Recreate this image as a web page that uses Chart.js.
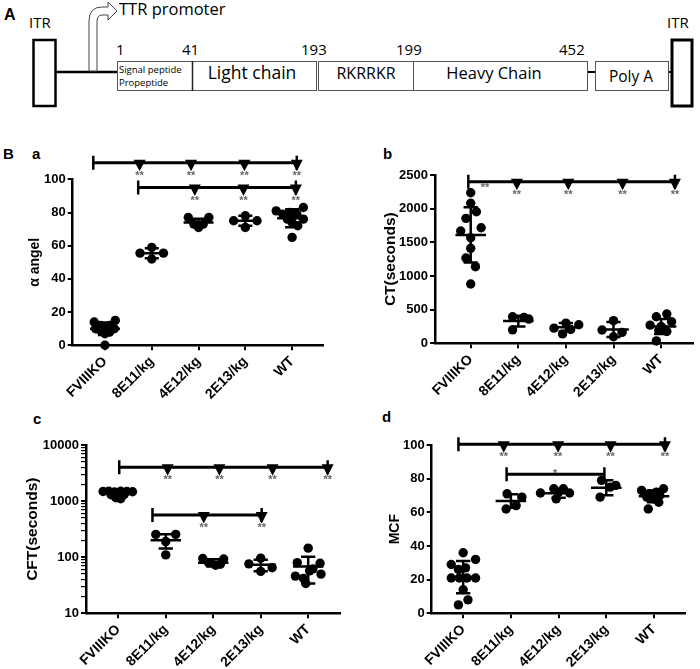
<!DOCTYPE html>
<html><head><meta charset="utf-8">
<script src="https://cdn.jsdelivr.net/npm/chart.js@4.4.1/dist/chart.umd.min.js"></script>
<style>
body{margin:0;background:#fff;}
#wrap{position:relative;width:700px;height:669px;overflow:hidden;background:#fff;}
canvas{position:absolute;}
.lbl{position:absolute;font:bold 15px "Liberation Sans",Arial,sans-serif;color:#000;line-height:1;}
</style></head><body>
<div id="wrap">
<svg width="700" height="135" style="position:absolute;left:0;top:0" xmlns="http://www.w3.org/2000/svg">
  <g font-family="'Open Sans', 'Liberation Sans', sans-serif" fill="#000">
    <text x="4" y="20" font-family="'Liberation Sans', Arial, sans-serif" font-weight="bold" font-size="16">A</text>
    <text x="29" y="28" font-size="15">ITR</text>
    <text x="667" y="28" font-size="15">ITR</text>
    <text x="119" y="15" font-size="16.5">TTR promoter</text>
    <text x="116" y="55" font-size="15">1</text>
    <text x="182" y="55" font-size="15">41</text>
    <text x="301" y="55" font-size="15">193</text>
    <text x="396" y="55" font-size="15">199</text>
    <text x="559" y="55" font-size="15">452</text>
  </g>
  <rect x="33.5" y="40" width="22" height="66" fill="#fff" stroke="#000" stroke-width="2.5"/>
  <rect x="672" y="40" width="20" height="66" fill="#fff" stroke="#000" stroke-width="3"/>
  <line x1="56" y1="72" x2="117" y2="72" stroke="#000" stroke-width="2.5"/>
  <line x1="587" y1="72" x2="595" y2="72" stroke="#000" stroke-width="2"/>
  <line x1="668" y1="72" x2="672" y2="72" stroke="#000" stroke-width="2"/>
  <path d="M89 71 L89 21 Q89 7 102 7 L108 7 L108 2 L117 11 L108 20 L108 15 L102 15 Q97 15 97 22 L97 71 Z" fill="#fff" stroke="#444" stroke-width="1"/>
  <g fill="#fff" stroke="#555" stroke-width="1">
    <rect x="117.5" y="61.5" width="75" height="29"/>
    <rect x="192.5" y="61.5" width="124" height="29"/>
    <rect x="318.5" y="61.5" width="95" height="29"/>
    <rect x="413.5" y="61.5" width="174" height="29"/>
    <rect x="595.5" y="61.5" width="73" height="29"/>
  </g>
  <line x1="192.5" y1="61" x2="192.5" y2="91" stroke="#222" stroke-width="1.5"/>
  <g font-family="'Open Sans', 'Liberation Sans', sans-serif" fill="#000">
    <text x="119" y="73" font-size="9.5">Signal peptide</text>
    <text x="119" y="86" font-size="9.5">Propeptide</text>
    <text x="252" y="79" font-size="17.5" text-anchor="middle">Light chain</text>
    <text x="366" y="79" font-size="16" text-anchor="middle">RKRRKR</text>
    <text x="494" y="79" font-size="16.5" text-anchor="middle">Heavy Chain</text>
    <text x="631" y="82" font-size="15.5" text-anchor="middle">Poly A</text>
  </g>
</svg>
<div class="lbl" style="left:3px;top:146px">B</div>
<div class="lbl" style="left:32px;top:146px">a</div>
<div class="lbl" style="left:383px;top:146px">b</div>
<div class="lbl" style="left:33px;top:411px">c</div>
<div class="lbl" style="left:382px;top:409px">d</div>
<canvas id="ca" width="350" height="272" style="left:0;top:140px"></canvas>
<canvas id="cb" width="350" height="272" style="left:350px;top:140px"></canvas>
<canvas id="cc" width="350" height="259" style="left:0;top:410px"></canvas>
<canvas id="cd" width="350" height="259" style="left:350px;top:410px"></canvas>
</div>
<script>
// ---------- DATA ----------
const categories = ['FVIIIKO', '8E11/kg', '4E12/kg', '2E13/kg', 'WT'];

// Panel a: alpha angle, points as [jitter, value]
const alphaPoints = [
  [[-0.23,14],[0.22,15],[-0.1,12],[0.1,12],[0,11],[-0.2,10],[0.2,10],[-0.1,9],[0.1,8],[0,7],[0,0]],
  [[0,59],[-0.25,55.5],[0.25,55.5],[0,52]],
  [[-0.22,77],[0.22,77],[-0.1,73],[0,71],[0.1,73]],
  [[0,78],[-0.25,75],[0.25,75],[0,71]],
  [[-0.34,81],[0.24,83],[-0.2,79],[-0.05,80],[0.1,79],[0.24,76],[-0.1,76],[0,74],[0.12,72],[0,65]]
];
const alphaMean = [10, 55.5, 74, 75, 76.5];
const alphaSD = [3.8, 3, 2.3, 3, 5.4];
const alphaTicks = [0, 20, 40, 60, 80, 100];
const alphaBars = [
  {y:110, from:-0.25, marks:[0.74,1.84,2.98,4.1], end:4.1, stars:[0.74,1.84,2.98,4.1], text:'**'},
  {y:95, from:0.71, marks:[1.92,2.96,4.08], end:4.08, stars:[1.92,2.96,4.08], text:'**'}
];

// Panel b: CT (seconds)
const ctPoints = [
  [[0,2236],[0,2080],[0.12,1954],[-0.1,1856],[-0.21,1668],[0.22,1717],[0,1568],[0,1411],[-0.1,1267],[0.1,1138],[0,881]],
  [[-0.12,395],[0.12,385],[0.22,360],[-0.12,200]],
  [[-0.25,225],[0,300],[0.27,275],[-0.07,140],[0.1,205]],
  [[0,336],[-0.24,198],[0.18,163],[0,98]],
  [[-0.1,395],[0.12,435],[0.22,320],[-0.23,270],[0,250],[-0.05,190],[0.12,175],[0.05,215],[-0.1,35]]
];
const ctMean = [1610, 330, 240, 205, 250];
const ctSD = [410, 80, 60, 110, 110];
const ctTicks = [0, 500, 1000, 1500, 2000, 2500];
const ctBars = [
  {y:2400, from:-0.05, marks:[0.97,2.05,3.19,4.29], end:4.29, stars:[0.97,2.05,3.19,4.29], text:'**', extra:[[0.3,'**']]}
];

// Panel c: CFT (seconds), log axis
const cftPoints = [
  [[-0.32,1480],[-0.2,1500],[-0.08,1450],[0.05,1500],[0.18,1480],[0.3,1470],[-0.15,1300],[0,1350],[0.12,1300],[-0.05,1150],[0.05,1100]],
  [[-0.21,255],[0.21,255],[0,190],[0,110]],
  [[-0.22,95],[0.22,93],[-0.1,80],[0.05,72],[0.15,75]],
  [[0,96],[-0.25,76],[0.24,65],[0,56]],
  [[0,145],[-0.23,80],[0.25,78],[0.1,62],[-0.27,46],[0.27,50],[-0.1,42],[-0.05,34],[0.03,57]]
];
const cftMean = [1380, 200, 80, 73, 68];
const cftSD = [120, 57, 12, 17, 34];
const cftTicks = [10, 100, 1000, 10000];
const cftBars = [
  {y:4000, from:0.02, marks:[1.04,2.13,3.25,4.41], end:4.41, stars:[1.04,2.13,3.25,4.41], text:'**'},
  {y:565, from:0.72, marks:[1.8,3.02], end:3.02, stars:[1.8,3.02], text:'**'}
];

// Panel d: MCF
const mcfPoints = [
  [[0,36],[-0.25,29],[0.26,32],[0.05,27],[-0.1,26],[-0.25,21],[-0.08,21],[0.08,21],[0.26,21],[0,14],[0.1,8],[-0.1,5]],
  [[-0.08,71],[0.23,69],[0.11,64],[-0.1,62]],
  [[-0.1,74],[0.1,74],[-0.38,71.5],[0.23,71.5],[-0.05,68],[0,72]],
  [[-0.1,79],[0.2,76],[0.08,75],[-0.13,69]],
  [[-0.26,73],[0.2,74],[-0.1,71],[0.05,72],[0.12,70],[-0.15,69],[0,68],[0.1,66],[-0.12,62]]
];
const mcfMean = [21.5, 66.7, 71.3, 74.6, 69.5];
const mcfSD = [9.6, 4, 2.6, 4.4, 3.5];
const mcfTicks = [0, 20, 40, 60, 80, 100];
const mcfBars = [
  {y:100.4, from:-0.1, marks:[0.85,1.99,3.09,4.23], end:4.23, stars:[0.85,1.99,3.09,4.23], text:'**'},
  {y:82.6, from:0.91, marks:[], end:2.96, stars:[], text:'', above:[[1.93,'*']]}
];

// ---------- RENDERING ----------
const FONT = '"Liberation Sans", Arial, sans-serif';
Chart.defaults.font.family = FONT;
Chart.defaults.color = '#000';

function overlay(p) {
  return {
    id: 'overlay_' + p.id,
    afterDatasetsDraw(chart) {
      const {ctx} = chart;
      const x = chart.scales.x, y = chart.scales.y;
      ctx.save();
      ctx.strokeStyle = '#000'; ctx.fillStyle = '#000'; ctx.lineWidth = 2.5;
      // mean +/- SD
      p.mean.forEach((m, i) => {
        const s = p.sd[i];
        const px = x.getPixelForValue(i);
        const half = x.getPixelForValue(i + 0.32) - px;
        const cap = x.getPixelForValue(i + 0.15) - px;
        const ym = y.getPixelForValue(m), yt = y.getPixelForValue(m + s), yb = y.getPixelForValue(m - s);
        ctx.beginPath();
        ctx.moveTo(px - half, ym); ctx.lineTo(px + half, ym);
        ctx.moveTo(px, yt); ctx.lineTo(px, yb);
        ctx.moveTo(px - cap, yt); ctx.lineTo(px + cap, yt);
        ctx.moveTo(px - cap, yb); ctx.lineTo(px + cap, yb);
        ctx.stroke();
      });
      // significance bars
      p.bars.forEach(b => {
        const yb = y.getPixelForValue(b.y);
        const x0 = x.getPixelForValue(b.from), x1 = x.getPixelForValue(b.end);
        ctx.lineWidth = 3;
        ctx.beginPath(); ctx.moveTo(x0, yb); ctx.lineTo(x1, yb); ctx.stroke();
        ctx.lineWidth = 2.5;
        ctx.beginPath();
        ctx.moveTo(x0, yb - 7); ctx.lineTo(x0, yb + 7);
        ctx.moveTo(x1, yb - 7); ctx.lineTo(x1, yb + 7);
        ctx.stroke();
        b.marks.forEach(mx => {
          const px = x.getPixelForValue(mx);
          ctx.beginPath();
          ctx.moveTo(px - 6, yb - 3); ctx.lineTo(px + 6, yb - 3); ctx.lineTo(px, yb + 8.5);
          ctx.closePath(); ctx.fill();
        });
      });
      ctx.fillStyle = '#666';
      ctx.font = 'bold 11px ' + FONT;
      ctx.textAlign = 'center'; ctx.textBaseline = 'alphabetic';
      p.bars.forEach(b => {
        const yb = y.getPixelForValue(b.y);
        b.stars.forEach(sx => ctx.fillText(b.text, x.getPixelForValue(sx), yb + 16));
        (b.extra || []).forEach(([sx, t]) => ctx.fillText(t, x.getPixelForValue(sx), yb + 9));
        (b.above || []).forEach(([sx, t]) => ctx.fillText(t, x.getPixelForValue(sx), yb + 3));
      });
      ctx.restore();
    }
  };
}

function makeChart(p) {
  const canvas = document.getElementById(p.id);
  const W = canvas.width, H = canvas.height;
  const pts = [];
  p.pts.forEach((g, i) => g.forEach(([dx, v]) => pts.push({x: i + dx, y: v})));
  const datasets = [{data: pts, pointRadius: 4.7, pointBackgroundColor: '#000', pointBorderWidth: 0, showLine: false, clip: false}];
  const yFont = {family: FONT, size: 13, weight: 'bold'};
  const xFont = {family: FONT, size: 14, weight: 'bold'};
  const yScale = {
    type: p.log ? 'logarithmic' : 'linear',
    min: p.yTicks[0], max: p.yTicks[p.yTicks.length - 1],
    afterBuildTicks: s => {
      let vals = p.yTicks.slice();
      if (p.log) {
        vals = [];
        p.yTicks.forEach((t, k) => {
          if (k < p.yTicks.length - 1) { for (let m = 1; m < 10; m++) vals.push(m * t); }
          else vals.push(t);
        });
      }
      s.ticks = vals.map(v => ({value: v}));
    },
    ticks: {font: yFont, color: '#000', padding: 2, autoSkip: false,
      callback: v => p.yTicks.includes(v) ? String(v) : ''},
    grid: {drawOnChartArea: false, drawTicks: true, tickLength: 5, color: '#000',
      lineWidth: ctx => (p.log && ctx.tick && !p.yTicks.includes(ctx.tick.value)) ? 1.2 : 2},
    border: {display: true, color: '#000', width: 2.5},
    title: {display: true, text: p.title, font: {family: FONT, size: p.titleSize, weight: 'bold'}, color: '#000', padding: 0},
    afterFit: s => { s.width = p.areaLeft - p.padLeft; }
  };
  const xScale = {
    type: 'linear', min: p.xMin, max: p.xMax,
    afterBuildTicks: s => { s.ticks = categories.map((c, i) => ({value: i})); },
    ticks: {font: xFont, color: '#000', padding: 3, autoSkip: false, maxRotation: 45, minRotation: 45,
      callback: v => categories[v] !== undefined ? categories[v] : ''},
    grid: {drawOnChartArea: false, drawTicks: true, tickLength: 5, color: '#000', lineWidth: 2},
    border: {display: true, color: '#000', width: 2.5},
    afterFit: s => { s.height = H - p.areaBottom; }
  };
  new Chart(canvas, {
    type: 'scatter',
    data: {datasets},
    options: {
      responsive: false, animation: false, devicePixelRatio: 1,
      layout: {padding: {left: p.padLeft, top: p.areaTop, right: W - p.areaRight, bottom: 0}},
      plugins: {legend: {display: false}, tooltip: {enabled: false}},
      events: [],
      scales: {x: xScale, y: yScale}
    },
    plugins: [overlay(p)]
  });
}

makeChart({id: 'ca', pts: alphaPoints, mean: alphaMean, sd: alphaSD, yTicks: alphaTicks, bars: alphaBars, titleSize: 14,
  title: 'α angel', xMin: -0.69, xMax: 4.66, padLeft: 26.6, areaLeft: 72.7, areaRight: 323, areaTop: 39.3, areaBottom: 205.3});
makeChart({id: 'cb', pts: ctPoints, mean: ctMean, sd: ctSD, yTicks: ctTicks, bars: ctBars, titleSize: 15.5,
  title: 'CT(seconds)', xMin: -0.75, xMax: 4.67, padLeft: 31.5, areaLeft: 85, areaRight: 343, areaTop: 35, areaBottom: 203.3});
makeChart({id: 'cc', pts: cftPoints, mean: cftMean, sd: cftSD, yTicks: cftTicks, bars: cftBars, log: true, titleSize: 15.5,
  title: 'CFT(seconds)', xMin: -0.68, xMax: 4.67, padLeft: 23.7, areaLeft: 86, areaRight: 340, areaTop: 35, areaBottom: 203.3});
makeChart({id: 'cd', pts: mcfPoints, mean: mcfMean, sd: mcfSD, yTicks: mcfTicks, bars: mcfBars, titleSize: 14,
  title: 'MCF', xMin: -0.66, xMax: 4.65, padLeft: 36.6, areaLeft: 81.7, areaRight: 335, areaTop: 35, areaBottom: 203.3});
</script>
</body></html>
